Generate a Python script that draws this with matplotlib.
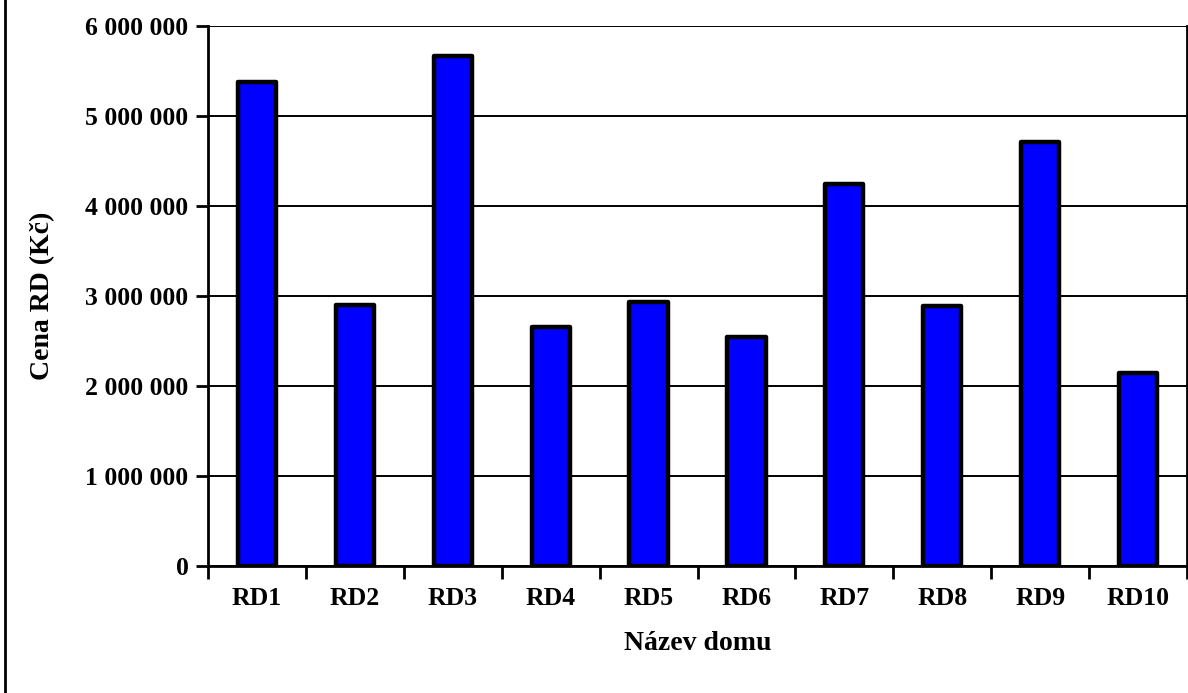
import numpy as np
import matplotlib.pyplot as plt
from matplotlib.lines import Line2D
from matplotlib.ticker import FuncFormatter, MultipleLocator

# ceny rodinnych domu
domy = ['RD1', 'RD2', 'RD3', 'RD4', 'RD5', 'RD6', 'RD7', 'RD8', 'RD9', 'RD10']
ceny = [5375000, 2900000, 5670000, 2660000, 2930000, 2540000, 4240000, 2890000, 4715000, 2150000]

plt.rcParams['font.family'] = ['Liberation Serif', 'DejaVu Serif']
plt.rcParams['font.weight'] = 'bold'

fig = plt.figure(figsize=(11.88, 6.93), dpi=100)
W, H = 1188, 693
ax = fig.add_axes([208 / W, (H - 566) / H, (1187 - 208) / W, (566 - 26) / H])

x = np.arange(len(domy))
ax.bar(x, ceny, width=0.39, color='#0000ff', edgecolor='black', linewidth=3.2,
       joinstyle='round', zorder=3)

ax.set_xlim(-0.5, len(domy) - 0.5)
ax.set_ylim(0, 6000000)

# osa y - mezery jako oddelovac tisicu
ax.yaxis.set_major_locator(MultipleLocator(1000000))
ax.yaxis.set_major_formatter(FuncFormatter(lambda v, p: f'{int(v):,}'.replace(',', ' ')))
ax.grid(axis='y', color='black', linewidth=1.4, zorder=1)

# popisky pod sloupci, carky mezi kategoriemi
ax.set_xticks(x)
ax.set_xticklabels(domy)
ax.set_xticks(np.arange(-0.5, len(domy)), minor=True)
ax.tick_params(axis='x', which='major', length=0, pad=15, labelsize=18.5)
ax.tick_params(axis='x', which='minor', length=9, width=2, direction='out')
ax.tick_params(axis='y', length=9, width=2, direction='out', pad=5, labelsize=18.5)

for s in ['left', 'bottom', 'right']:
    ax.spines[s].set_linewidth(2)
ax.spines['top'].set_visible(False)

ax.set_xlabel('Název domu', fontsize=20, fontweight='bold', labelpad=15)
ax.set_ylabel('Cena RD (Kč)', fontsize=20, fontweight='bold', labelpad=22)

# ramecek grafu vlevo
fig.add_artist(Line2D([5 / W, 5 / W], [0, 1], color='black', linewidth=2,
                      transform=fig.transFigure))

fig.savefig('out.png', dpi=100)
